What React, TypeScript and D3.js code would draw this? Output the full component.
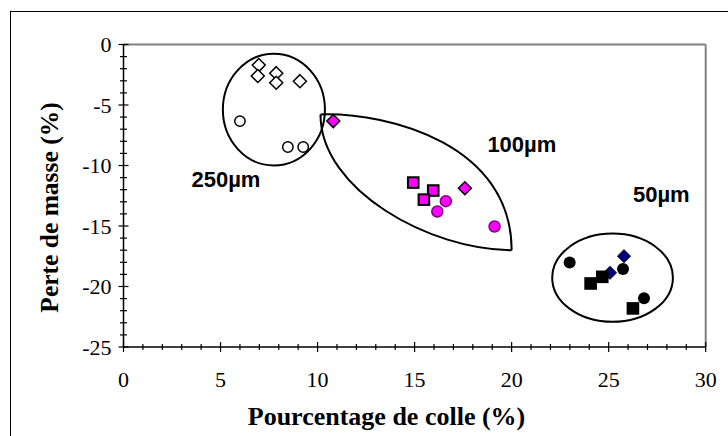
import React from "react";
import * as d3 from "d3";

// ---- data (Pourcentage de colle %, Perte de masse %) ----
const g250Diamonds: [number, number][] = [[6.97, -1.7], [6.92, -2.6], [7.87, -2.37], [7.87, -3.16], [9.09, -3.03]];
const g250Circles: [number, number][] = [[6.0, -6.33], [8.47, -8.47], [9.26, -8.47]];
const g100Diamonds: [number, number][] = [[10.81, -6.33], [17.59, -11.88]];
const g100Squares: [number, number][] = [[14.93, -11.41], [15.96, -12.07], [15.48, -12.82]];
const g100Circles: [number, number][] = [[16.61, -12.95], [16.17, -13.8], [19.12, -15.04]];
const g50Diamonds: [number, number][] = [[25.79, -17.49], [25.07, -18.87]];
const g50Circles: [number, number][] = [[22.99, -18.01], [25.74, -18.56], [26.82, -20.98]];
const g50Squares: [number, number][] = [[24.07, -19.75], [24.67, -19.2], [26.25, -21.81]];

const xTicks = [0, 5, 10, 15, 20, 25, 30];
const yTicks = [0, -5, -10, -15, -20, -25];
const xMinor = d3.range(0, 31, 1);
const yMinor = d3.range(-25, 1, 1);

// group annotations (data units)
const groupLabels = [
  { text: "250µm", x: 3.5, y: -11.8 },
  { text: "100µm", x: 18.75, y: -8.9 },
  { text: "50µm", x: 26.25, y: -13.0 },
];
const ellipse250 = { cx: 7.75, cy: -5.38, rx: 2.63, ry: 4.62 };
const ellipse50 = { cx: 25.2, cy: -19.27, rx: 3.11, ry: 3.65 };
const lens100 = {
  start: [10.15, -5.78],
  end: [20.0, -17.0],
  upper: [[13.76, -5.61], [20.0, -8.33]],
  lower: [[10.15, -12.05], [15.82, -17.0]],
};

const W = 728;
const H = 436;
const x = d3.scaleLinear().domain([0, 30]).range([123.5, 705.7]);
const y = d3.scaleLinear().domain([-25, 0]).range([347, 44.5]);

const diamond = (cx: number, cy: number, r: number) =>
  `M${cx},${cy - r}L${cx + r},${cy}L${cx},${cy + r}L${cx - r},${cy}Z`;

export default function App() {
  const lensPath = d3.path();
  lensPath.moveTo(x(lens100.start[0]), y(lens100.start[1]));
  lensPath.bezierCurveTo(
    x(lens100.upper[0][0]), y(lens100.upper[0][1]),
    x(lens100.upper[1][0]), y(lens100.upper[1][1]),
    x(lens100.end[0]), y(lens100.end[1])
  );
  lensPath.moveTo(x(lens100.start[0]), y(lens100.start[1]));
  lensPath.bezierCurveTo(
    x(lens100.lower[0][0]), y(lens100.lower[0][1]),
    x(lens100.lower[1][0]), y(lens100.lower[1][1]),
    x(lens100.end[0]), y(lens100.end[1])
  );

  const serif = "'Liberation Serif', 'Times New Roman', serif";
  const sans = "'Liberation Sans', Arial, sans-serif";

  return (
    <svg
      width={W}
      height={H}
      style={{ position: "absolute", left: 0, top: 0, background: "#fff" }}
    >
      <rect x={10.5} y={11.5} width={740} height={440} fill="#fff" stroke="#000" strokeWidth={1} />

      {/* plot frame top/right */}
      <line x1={x(0)} x2={x(30)} y1={y(0)} y2={y(0)} stroke="#808080" strokeWidth={2} />
      <line x1={x(30)} x2={x(30)} y1={y(0)} y2={y(-25)} stroke="#808080" strokeWidth={2} />

      {/* axes */}
      <line x1={x(0)} x2={x(30)} y1={y(-25)} y2={y(-25)} stroke="#000" strokeWidth={1.5} />
      <line x1={x(0)} x2={x(0)} y1={y(0)} y2={y(-25)} stroke="#000" strokeWidth={1.5} />
      {xMinor.map((v) => (
        <line key={"xm" + v} x1={x(v)} x2={x(v)} y1={y(-25) - (v % 5 === 0 ? 5 : 3)} y2={y(-25) + (v % 5 === 0 ? 5 : 3)} stroke="#000" strokeWidth={1.2} />
      ))}
      {yMinor.map((v) => (
        <line key={"ym" + v} x1={x(0) - (v % 5 === 0 ? 5 : 3.5)} x2={x(0) + (v % 5 === 0 ? 5 : 3.5)} y1={y(v)} y2={y(v)} stroke="#000" strokeWidth={1.2} />
      ))}
      {xTicks.map((v) => (
        <text key={"xt" + v} x={x(v)} y={387} textAnchor="middle" fontFamily={serif} fontSize={22} fill="#000">
          {String(v)}
        </text>
      ))}
      {yTicks.map((v) => (
        <text key={"yt" + v} x={111.5} y={y(v)} dy="0.35em" textAnchor="end" fontFamily={serif} fontSize={22} fill="#000">
          {String(v)}
        </text>
      ))}

      <text x={386.5} y={425} textAnchor="middle" fontFamily={serif} fontWeight="bold" fontSize={26} fill="#000">
        Pourcentage de colle (%)
      </text>
      <text transform={`translate(58,207.5) rotate(-90)`} textAnchor="middle" fontFamily={serif} fontWeight="bold" fontSize={25.5} fill="#000">
        Perte de masse (%)
      </text>

      {/* 250 µm */}
      {g250Diamonds.map(([a, b], i) => (
        <path key={"d250" + i} d={diamond(x(a), y(b), 6.5)} fill="#fff" stroke="#000" strokeWidth={1.5} />
      ))}
      {g250Circles.map(([a, b], i) => (
        <circle key={"c250" + i} cx={x(a)} cy={y(b)} r={5.2} fill="#fff" stroke="#000" strokeWidth={1.5} />
      ))}

      {/* 100 µm */}
      {g100Diamonds.map(([a, b], i) => (
        <path key={"d100" + i} d={diamond(x(a), y(b), 6.5)} fill="#ff00ff" stroke="#000" strokeWidth={1.5} />
      ))}
      {g100Circles.map(([a, b], i) => (
        <circle key={"c100" + i} cx={x(a)} cy={y(b)} r={5.5} fill="#ff00ff" stroke="#800080" strokeWidth={1.5} />
      ))}
      {g100Squares.map(([a, b], i) => (
        <rect key={"s100" + i} x={x(a) - 5.3} y={y(b) - 5.3} width={10.6} height={10.6} fill="#ff00ff" stroke="#000" strokeWidth={2} />
      ))}

      {/* 50 µm */}
      {g50Diamonds.map(([a, b], i) => (
        <path key={"d50" + i} d={diamond(x(a), y(b), 6.5)} fill="#000080" stroke="#000" strokeWidth={1} />
      ))}
      {g50Circles.map(([a, b], i) => (
        <circle key={"c50" + i} cx={x(a)} cy={y(b)} r={6} fill="#000" />
      ))}
      {g50Squares.map(([a, b], i) => (
        <rect key={"s50" + i} x={x(a) - 6.3} y={y(b) - 6.3} width={12.6} height={12.6} fill="#000" />
      ))}

      {/* group enclosures */}
      <ellipse
        cx={x(ellipse250.cx)} cy={y(ellipse250.cy)}
        rx={x(ellipse250.cx + ellipse250.rx) - x(ellipse250.cx)}
        ry={y(ellipse250.cy - ellipse250.ry) - y(ellipse250.cy)}
        fill="none" stroke="#000" strokeWidth={2}
      />
      <ellipse
        cx={x(ellipse50.cx)} cy={y(ellipse50.cy)}
        rx={x(ellipse50.cx + ellipse50.rx) - x(ellipse50.cx)}
        ry={y(ellipse50.cy - ellipse50.ry) - y(ellipse50.cy)}
        fill="none" stroke="#000" strokeWidth={2}
      />
      <path d={lensPath.toString()} fill="none" stroke="#000" strokeWidth={2} />

      {groupLabels.map((l) => (
        <text key={l.text} x={x(l.x)} y={y(l.y)} fontFamily={sans} fontWeight="bold" fontSize={22} fill="#000">
          {l.text}
        </text>
      ))}
    </svg>
  );
}
